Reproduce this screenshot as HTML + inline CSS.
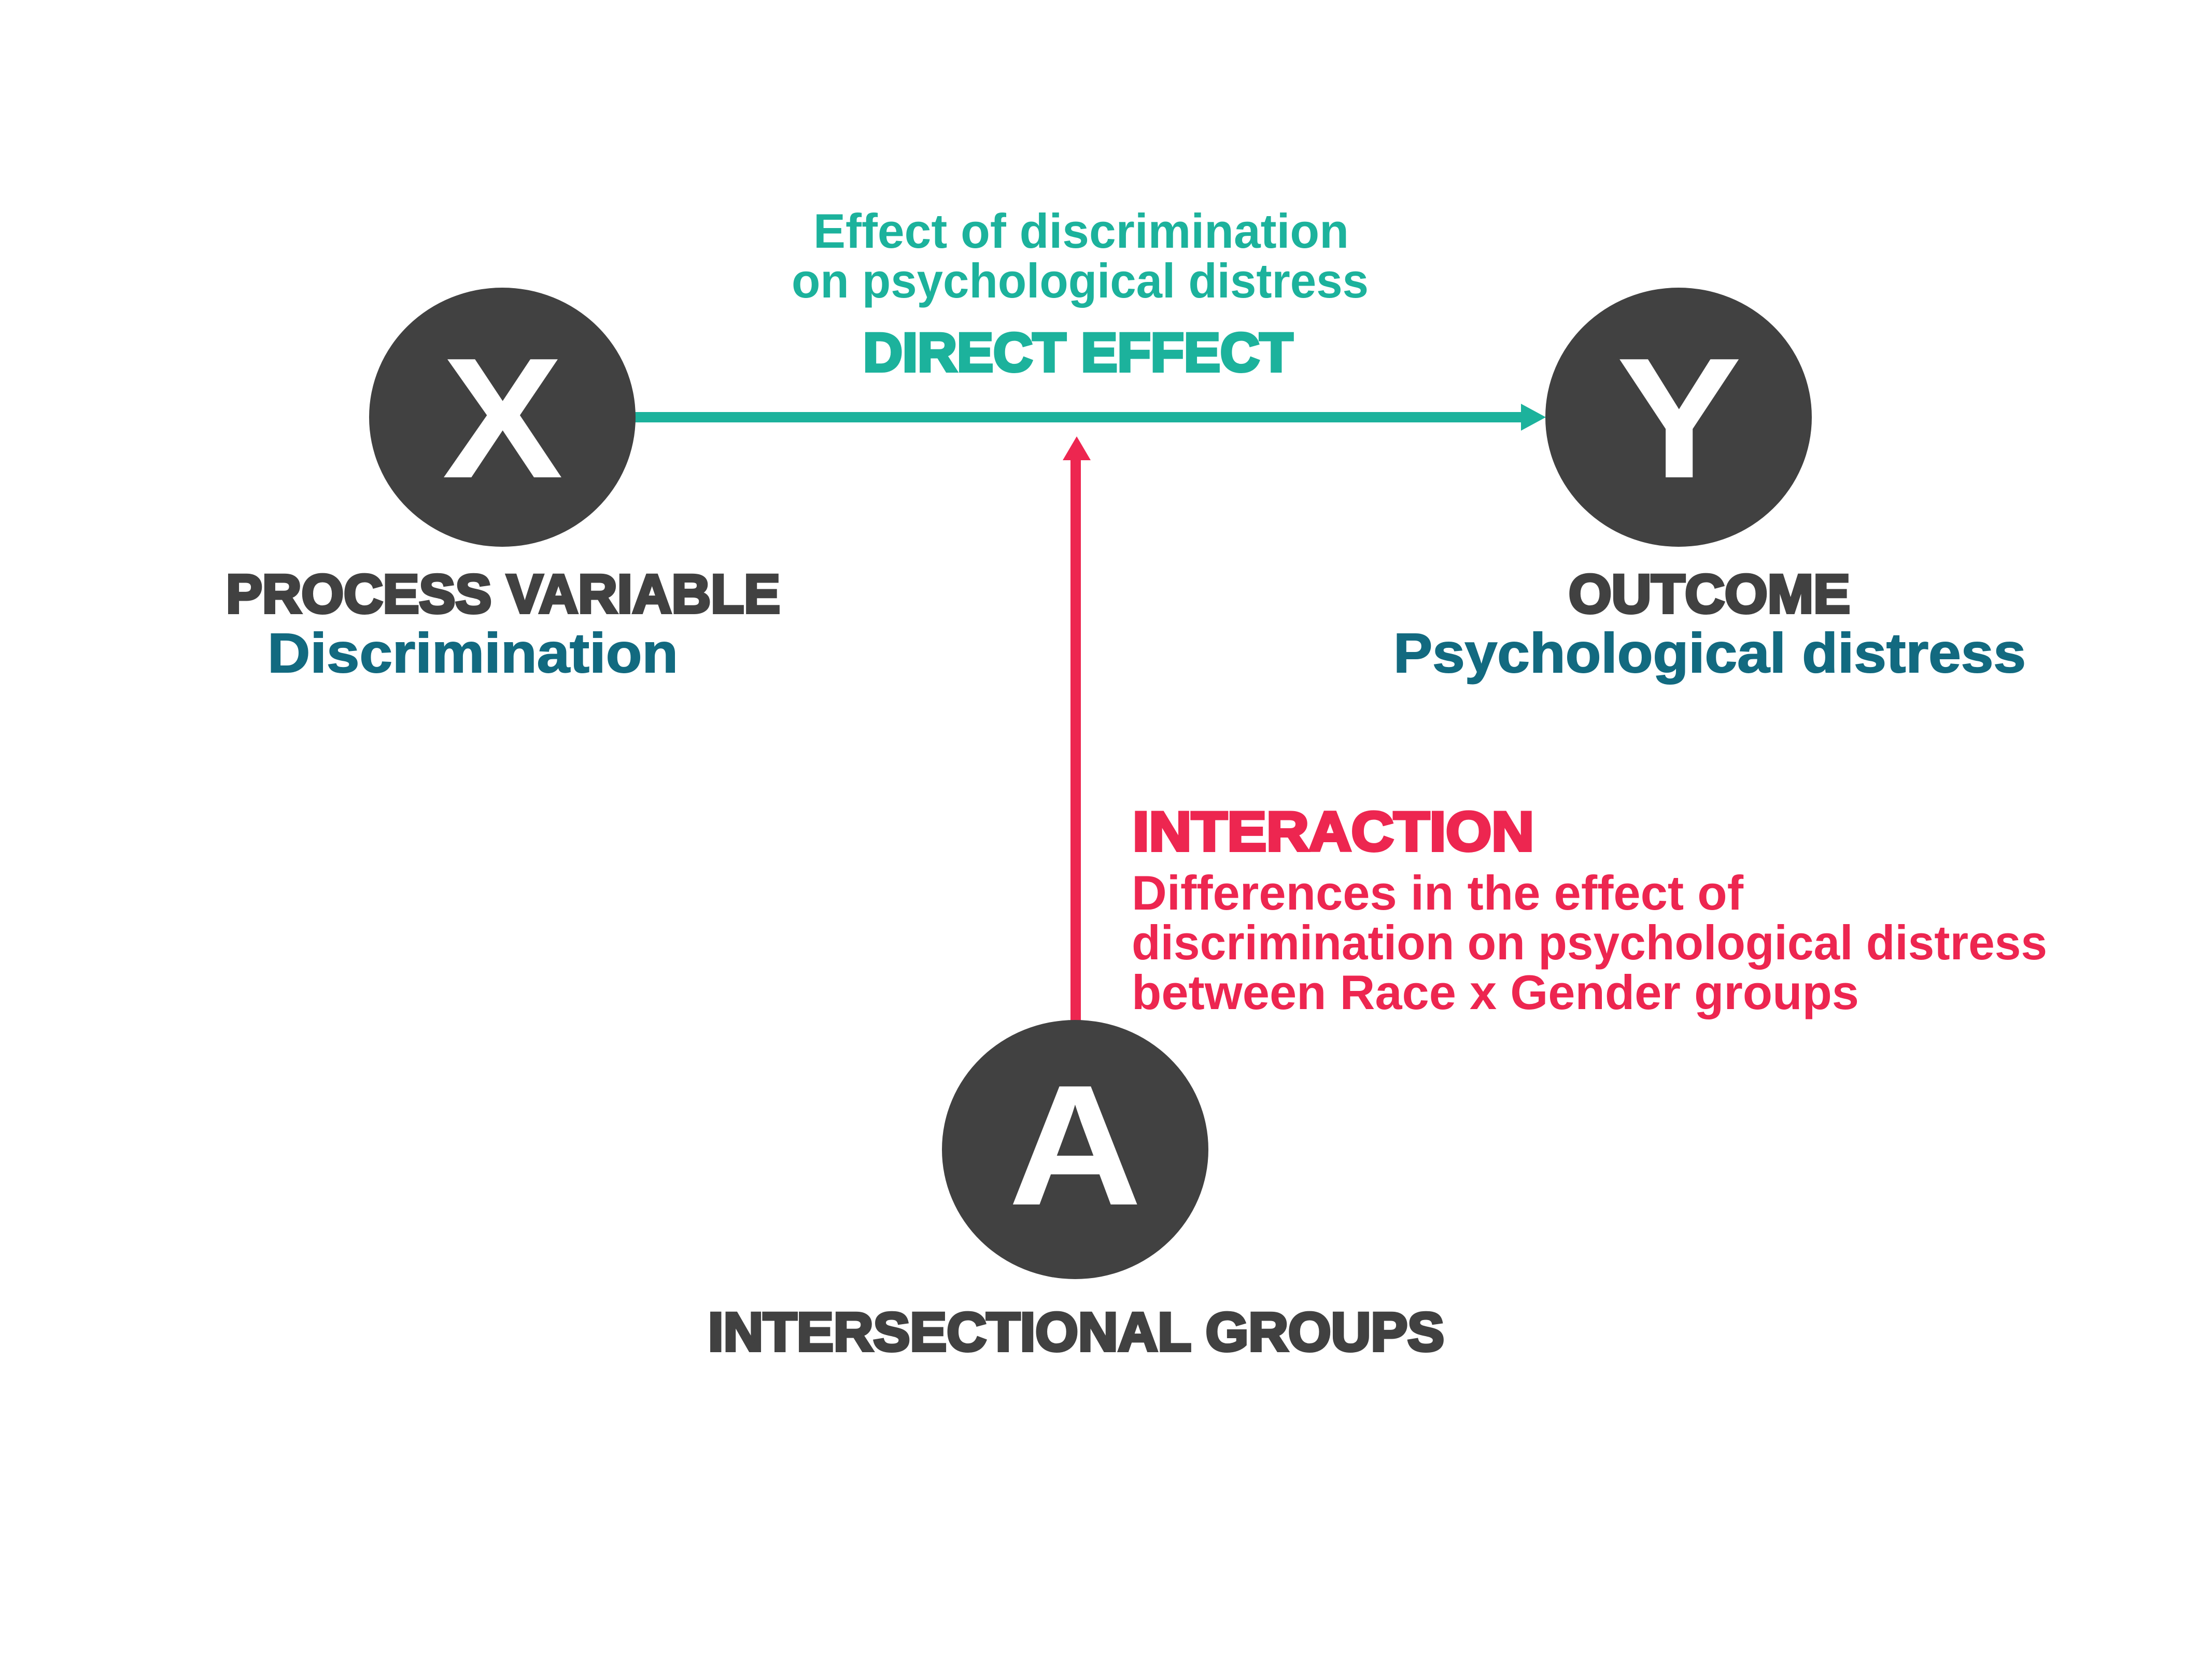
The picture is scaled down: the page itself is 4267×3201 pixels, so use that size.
<!DOCTYPE html>
<html>
<head>
<meta charset="utf-8">
<style>
  html, body { margin: 0; padding: 0; background: #ffffff; }
  svg { display: block; }
  text { font-family: "Liberation Sans", Arial, sans-serif; font-weight: bold; }
  .heavy { stroke-width: 6; stroke-linejoin: miter; }
  .semi { stroke-width: 2; }
</style>
</head>
<body>
<svg width="4267" height="3201" viewBox="0 0 4267 3201" xmlns="http://www.w3.org/2000/svg">
  <rect x="0" y="0" width="4267" height="3201" fill="#ffffff"/>

  <!-- Green direct-effect arrow -->
  <rect x="1220" y="795" width="1720" height="20" fill="#1cb29c"/>
  <polygon points="2934,779 2982,805 2934,831" fill="#1cb29c"/>

  <!-- Red interaction arrow -->
  <rect x="2065" y="884" width="20" height="1090" fill="#ed2650"/>
  <polygon points="2077,842 2104,888 2050,888" fill="#ed2650"/>

  <!-- Nodes -->
  <ellipse cx="969" cy="805" rx="257" ry="250" fill="#414141"/>
  <ellipse cx="3238" cy="805" rx="257" ry="250" fill="#414141"/>
  <ellipse cx="2074" cy="2218" rx="257" ry="250" fill="#414141"/>

  <text x="853" y="921" font-size="331" fill="#ffffff" textLength="233" lengthAdjust="spacingAndGlyphs">X</text>
  <text x="3118" y="921" font-size="331" fill="#ffffff" textLength="242" lengthAdjust="spacingAndGlyphs">Y</text>
  <text x="1945" y="2324" font-size="331" fill="#ffffff" textLength="258" lengthAdjust="spacingAndGlyphs">A</text>

  <!-- Direct effect labels -->
  <text x="1569" y="478" font-size="94" fill="#1cb29c" textLength="1033" lengthAdjust="spacingAndGlyphs">Effect of discrimination</text>
  <text x="1527" y="574" font-size="94" fill="#1cb29c" textLength="1113" lengthAdjust="spacingAndGlyphs">on psychological distress</text>
  <text class="heavy" x="1665" y="716" font-size="105" fill="#1cb29c" stroke="#1cb29c" textLength="829" lengthAdjust="spacingAndGlyphs">DIRECT EFFECT</text>

  <!-- X labels -->
  <text class="heavy" x="436" y="1182" font-size="105" fill="#414141" stroke="#414141" textLength="1069" lengthAdjust="spacingAndGlyphs">PROCESS VARIABLE</text>
  <text class="semi" x="516" y="1297" font-size="108" fill="#126a80" stroke="#126a80" textLength="792" lengthAdjust="spacingAndGlyphs">Discrimination</text>

  <!-- Y labels -->
  <text class="heavy" x="3026" y="1182" font-size="105" fill="#414141" stroke="#414141" textLength="543" lengthAdjust="spacingAndGlyphs">OUTCOME</text>
  <text class="semi" x="2688" y="1297" font-size="108" fill="#126a80" stroke="#126a80" textLength="1220" lengthAdjust="spacingAndGlyphs">Psychological distress</text>

  <!-- Interaction labels -->
  <text class="heavy" x="2185" y="1641" font-size="107" fill="#ed2650" stroke="#ed2650" textLength="774" lengthAdjust="spacingAndGlyphs">INTERACTION</text>
  <text x="2183" y="1755" font-size="94" fill="#ed2650" textLength="1180" lengthAdjust="spacingAndGlyphs">Differences in the effect of</text>
  <text x="2183" y="1851" font-size="94" fill="#ed2650" textLength="1766" lengthAdjust="spacingAndGlyphs">discrimination on psychological distress</text>
  <text x="2183" y="1947" font-size="94" fill="#ed2650" textLength="1403" lengthAdjust="spacingAndGlyphs">between Race x Gender groups</text>

  <!-- A label -->
  <text class="heavy" x="1366" y="2606" font-size="105" fill="#414141" stroke="#414141" textLength="1420" lengthAdjust="spacingAndGlyphs">INTERSECTIONAL GROUPS</text>
</svg>
</body>
</html>
